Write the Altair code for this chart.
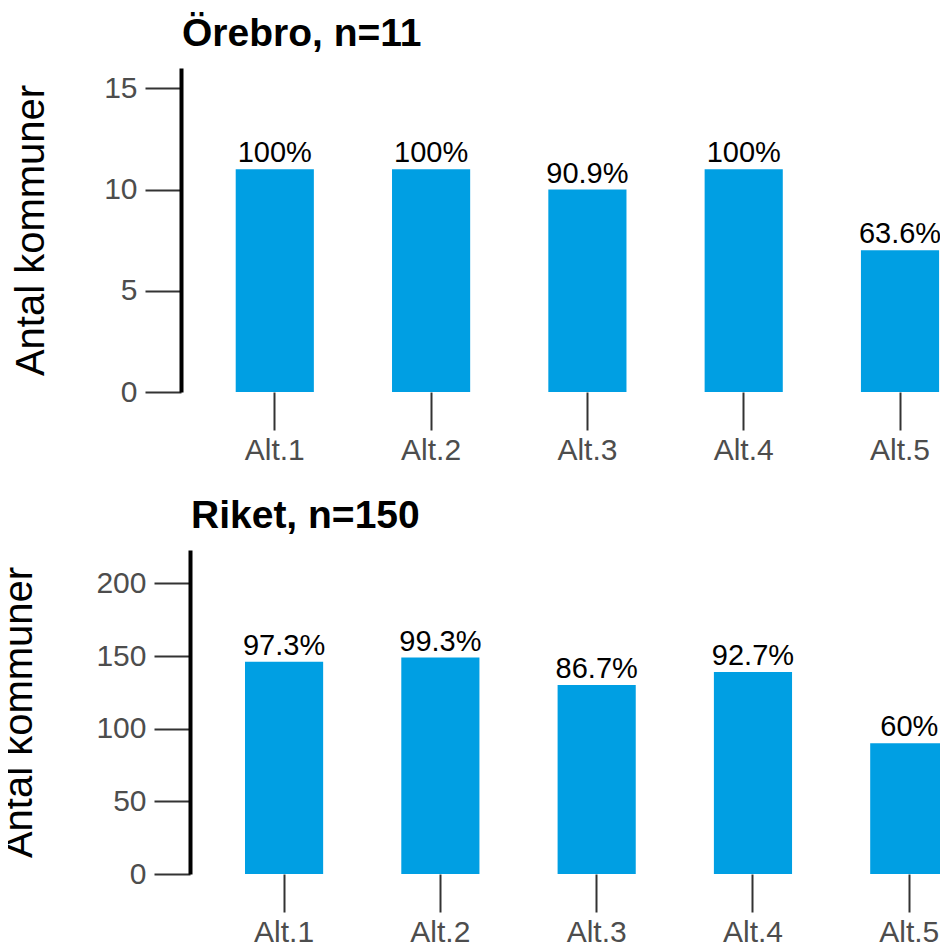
import altair as alt
import pandas as pd

categories = ["Alt.1", "Alt.2", "Alt.3", "Alt.4", "Alt.5"]
orebro_counts = [11, 11, 10, 11, 7]
orebro_labels = ["100%", "100%", "90.9%", "100%", "63.6%"]
riket_counts = [146, 149, 130, 139, 90]
riket_labels = ["97.3%", "99.3%", "86.7%", "92.7%", "60%"]
orebro_ticks = [0, 5, 10, 15]
riket_ticks = [0, 50, 100, 150, 200]

FONT = "Liberation Sans"
BAR = "#009FE3"


def panel(counts, labels, title, ymax, yticks, width, pad_outer, align, title_pad,
          y_offset, title_dx):
    df = pd.DataFrame({"alt": categories, "n": counts, "lab": labels})
    xscale = alt.Scale(type="band", paddingInner=0.5, paddingOuter=pad_outer, align=align)
    xaxis = alt.Axis(domain=False, tickSize=38, tickColor="#333333", tickWidth=2,
                     labelColor="#4D4D4D", labelFontSize=30, labelFont=FONT,
                     labelPadding=5, labelAngle=0, grid=False)
    yaxis = alt.Axis(values=yticks, domain=True, domainColor="black", domainWidth=4,
                     tickSize=36, tickColor="#333333", tickWidth=2, offset=y_offset,
                     labelColor="#4D4D4D", labelFontSize=30, labelFont=FONT, labelPadding=8,
                     titleFont=FONT, titleFontSize=40, titleFontWeight="normal",
                     titleColor="black", titlePadding=title_pad, grid=False)
    x = alt.X("alt:N", sort=categories, title=None, scale=xscale, axis=xaxis)
    y = alt.Y("n:Q", title="Antal kommuner",
              scale=alt.Scale(domain=[0, ymax], nice=False, zero=True), axis=yaxis)
    bars = alt.Chart(df).mark_bar(color=BAR).encode(x=x, y=y)
    text = alt.Chart(df).mark_text(baseline="alphabetic", dy=-7, fontSize=29, font=FONT,
                                   color="black").encode(
        x=alt.X("alt:N", sort=categories), y=alt.Y("n:Q"), text="lab:N")
    return (bars + text).properties(
        width=width, height=324,
        title=alt.Title(title, anchor="start", frame="group", fontSize=39, font=FONT,
                        fontWeight="bold", baseline="alphabetic", offset=-17, dx=title_dx,
                        color="black"))


# top: full panel (as in the original), step 156.3, cropped on the right by the page
top = panel(orebro_counts, orebro_labels, "Örebro, n=11", 16, orebro_ticks,
            812.8, 0.35, 0.5, 52, 0, 1)
# bottom: y axis moved 9 px inward, bands pushed 9 px right, cropped on the right
bottom = panel(riket_counts, riket_labels, "Riket, n=150", 223, riket_ticks,
               830, 0.40515, 0.5053, 56, -9, 10)

chart = alt.vconcat(top, bottom, spacing=32).configure_view(
    stroke=None).properties(padding={"left": -9, "top": 7, "right": -71, "bottom": 0})

chart.save("out.html", embed_options={"renderer": "svg", "actions": False})
